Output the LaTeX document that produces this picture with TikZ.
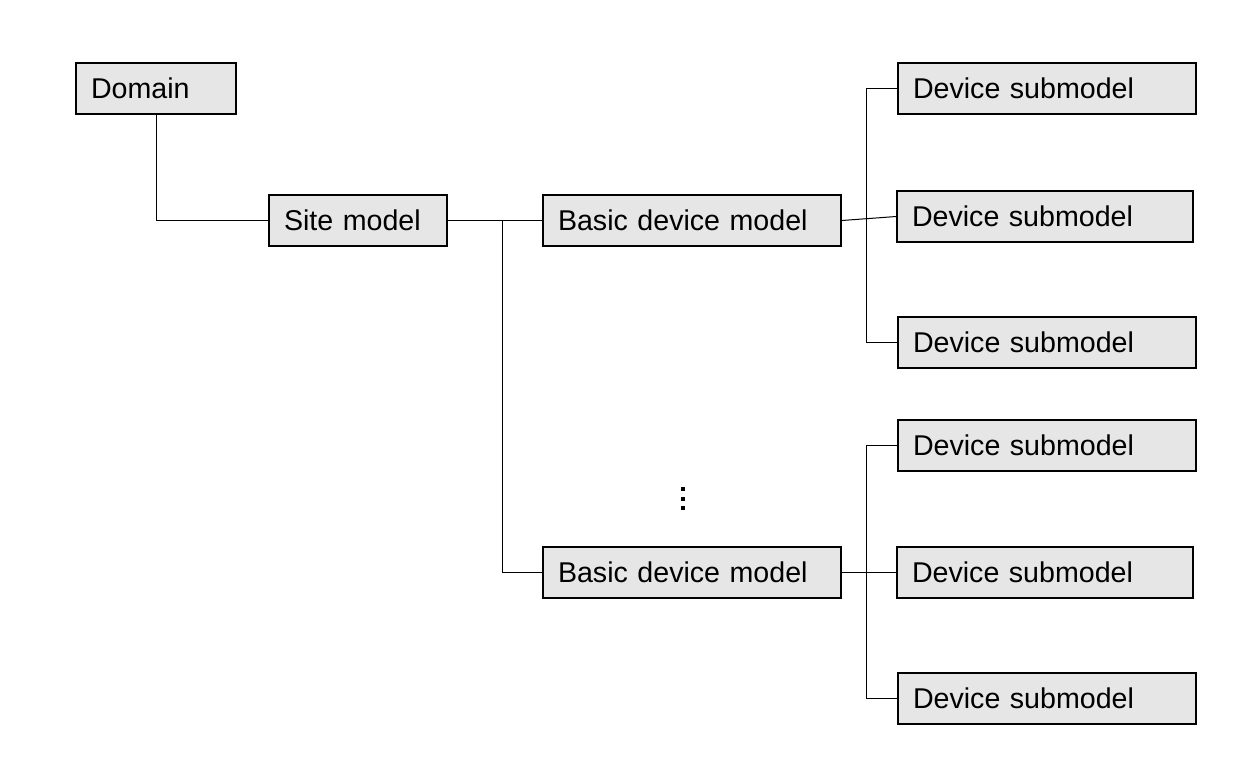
\documentclass[tikz,border=0pt]{standalone}
\usepackage{fontspec}
\setmainfont{Liberation Sans}
\definecolor{boxfill}{RGB}{230,230,230}
\begin{document}
\begin{tikzpicture}[x=1pt,y=-1pt,
  box/.style={draw=black, line width=1.6pt, fill=boxfill, minimum height=51pt,
    inner xsep=15pt, inner ysep=0pt, align=left, text height=20pt, text depth=0pt,
    font=\fontsize{28.6}{32}\selectfont},
  w160/.style={box, text width=130pt},
  w178/.style={box, text width=148pt},
  w298/.style={box, text width=268pt},
  w296/.style={box, text width=266pt},
  conn/.style={draw=black, line width=1pt}]
\useasboundingbox (0,0) rectangle (1237,772);
\node[w160] (dom) at (156,88.5) {Domain};
\node[w178] (site) at (358,220.5) {Site model};
\node[w298] (b1) at (692,220.5) {Basic device model};
\node[w298] (b2) at (692,572.5) {Basic device model};
\node[w298] (d1) at (1047,88.5) {Device submodel};
\node[w296] (d2) at (1045,216.5) {Device submodel};
\node[w298] (d3) at (1047,342.5) {Device submodel};
\node[w298] (d4) at (1047,445.5) {Device submodel};
\node[w296] (d5) at (1045,572.5) {Device submodel};
\node[w298] (d6) at (1047,698.5) {Device submodel};
\coordinate (j) at (502,220.5);
\coordinate (k1) at (866,220);
\coordinate (k2) at (866,572);
\draw[conn] (dom.south) |- (site.west);
\draw[conn] (site.east) -- (b1.west);
\draw[conn] (j) |- (b2.west);
\draw[conn] (b1.east) -- (d2.west);
\draw[conn] (b2.east) -- (d5.west);
\draw[conn] (d1.west) -| (k1) |- (d3.west);
\draw[conn] (d4.west) -| (k2) |- (d6.west);
\fill (681,487) rectangle (685,491);
\fill (681,496.5) rectangle (685,500.5);
\fill (681,506) rectangle (685,510);
\end{tikzpicture}
\end{document}
